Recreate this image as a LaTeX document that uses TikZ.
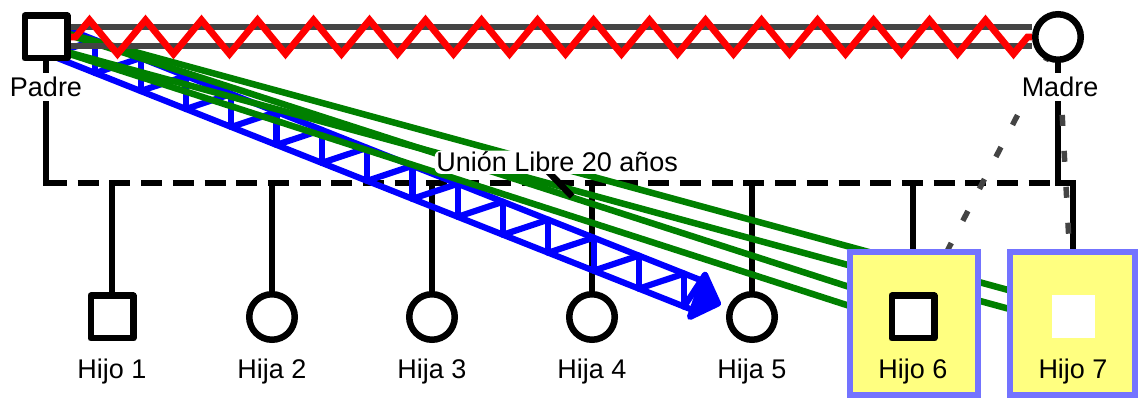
\documentclass[tikz,border=0pt]{standalone}
\usepackage{fontspec}
\setmainfont{Liberation Sans}
\usetikzlibrary{calc, backgrounds, decorations.pathmorphing}

\definecolor{railgray}{HTML}{444444}
\definecolor{tiegreen}{HTML}{008000}
\definecolor{markyellow}{HTML}{FFFF80}
\definecolor{markblue}{HTML}{7373FF}

\begin{document}
\begin{tikzpicture}[x=0.5pt, y=-0.5pt,
		every node/.style={font=\fontsize{13.5}{16}\selectfont},
		male/.style={rectangle, draw, fill=white, line width=3.25pt, line join=round, inner sep=0pt, minimum size=21.25pt},
		female/.style={circle, draw, fill=white, line width=3.25pt, inner sep=0pt, minimum size=22.75pt},
		unknown/.style={rectangle, fill=white, inner sep=0pt, minimum size=21.5pt},
		lbl/.style={anchor=base, inner sep=2pt},
		marked/.style={rectangle, draw=markblue, fill=markyellow, line width=3.25pt, minimum width=64pt, minimum height=71.5pt},
		stem/.style={line width=3.25pt, line cap=rect},
		union/.style={line width=3.25pt, dash pattern=on 10.5pt off 5.35pt},
		rail/.style={railgray, line width=3pt},
		hostile/.style={red, line width=3.4pt, decorate, decoration={zigzag, segment length=28pt, amplitude=8.5pt, pre=lineto, pre length=2.5pt}},
		tie/.style={tiegreen, line width=3.25pt},
		distant/.style={railgray, line width=2.75pt, dash pattern=on 5.5pt off 12.5pt},
		truss/.style={blue, line width=3.1pt, line join=round, line cap=round}]
	\useasboundingbox (0,0) rectangle (1139,399);

	% parents
	\node[male]					(padre) at (46,37) {};
	\node[female]				(madre) at (1058,37) {};
	\node[lbl, fill=white]		(lpadre) at (46,97) {Padre};
	\node[lbl, fill=white]		(lmadre) at (1060,97) {Madre};
	\coordinate (pcorner) at (padre |- 0,183);
	\coordinate (mcorner) at (madre |- 0,183);

	% children
	\node[male]		(h1) at (112,317) {};
	\node[female]	(h2) at (272,317) {};
	\node[female]	(h3) at (432,317) {};
	\node[female]	(h4) at (592,317) {};
	\node[female]	(h5) at (752,317) {};
	\node[marked]						(m6) at (914,323.5) {};
	\node[marked, minimum width=62.5pt]	(m7) at (1072.5,323.5) {};
	\node[male]		(h6) at (913,317) {};
	\node[unknown]	(h7) at (1073,317) {};
	\foreach \n/\t in {h1/Hijo 1, h2/Hija 2, h3/Hija 3, h4/Hija 4, h5/Hija 5, h6/Hijo 6, h7/Hijo 7}
		\node[lbl] at (\n |- 0,379) {\t};

	\begin{scope}[on background layer]
		% family lines
		\draw[stem] (padre) -- (pcorner);
		\draw[stem] (madre) -- (mcorner);
		\draw[union] (pcorner) -- coordinate[pos=0.507] (sep) (mcorner);
		\foreach \n in {h1,h2,h3,h4,h5,h6}
			\draw[stem] (\n |- pcorner) -- (\n);
		\draw[stem] (mcorner) -| (h7.center);

		% Padre -> Hija 5
		\begin{scope}[shift={(padre.center)}, yslant=-0.3966]
			\draw[truss] (4,-16.5) -- (655,-16.5) (4,16.5) -- (644,16.5);
			\foreach \k in {0,...,14}
				\draw[truss] ({4+45.3*\k},-16.5) -- ({4+45.3*\k},16.5);
			\foreach \k in {0,...,13}
				\draw[truss] ({4+45.3*\k},16.5) -- ({4+45.3*(\k+1)},-16.5);
			\draw[truss] (638,16.5) -- (659,-23.5);
			\filldraw[truss] (659,-23.5) -- (672,0) -- (644,24.5) -- cycle;
		\end{scope}

		% Padre -- Hijo 6 / Hijo 7
		\draw[tie] ($(padre.center)!4.5pt!90:(h6.center)$) -- ($(h6.center)!4.5pt!-90:(padre.center)$);
		\draw[tie] ($(padre.center)!4.5pt!-90:(h6.center)$) -- ($(h6.center)!4.5pt!90:(padre.center)$);
		\draw[tie] ($(padre.center)!4.5pt!90:(h7.center)$) -- ($(h7.center)!4.5pt!-90:(padre.center)$);
		\draw[tie] ($(padre.center)!4.5pt!-90:(h7.center)$) -- ($(h7.center)!4.5pt!90:(padre.center)$);
		\draw[stem, line cap=butt] ([shift={(-13,-13.5)}]sep) -- ([shift={(13,13.5)}]sep);

		% Madre -- Hijo 6 / Hijo 7
		\draw[distant, dash phase=10pt] (madre.center) -- (h6.center);
		\draw[distant, dash phase=15pt] (madre.center) -- (h7.center);

		% Padre -- Madre
		\draw[rail] ([yshift=4.75pt]padre.east) -- ([yshift=4.75pt]madre.west);
		\draw[rail] ([yshift=-4.5pt]padre.east) -- ([yshift=-4.5pt]madre.west);
		\draw[hostile] (padre) -- (madre);
	\end{scope}

	% union label
	\node[lbl, fill=white, inner sep=0.75pt, rounded corners=3pt] (ulabel) at ([shift={(-2,-11)}]sep) {Unión Libre 20 años};
\end{tikzpicture}
\end{document}
